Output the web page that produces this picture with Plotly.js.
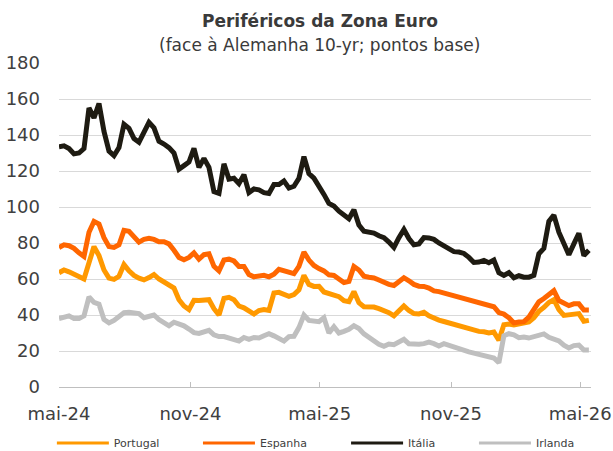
<!DOCTYPE html>
<html>
<head>
<meta charset="utf-8">
<script src="https://cdn.plot.ly/plotly-3.0.1.min.js"></script>
<style>html,body{margin:0;padding:0;background:#fff}#chart{width:613px;height:451px}</style>
</head>
<body>
<div id="chart"></div>
<script>
// Weekly observations starting 2024-05-01
const startDate = '2024-05-01';
const seriesNames = ['Portugal', 'Espanha', 'Itália', 'Irlanda'];
const tickDates = ['2024-05-01', '2024-11-01', '2025-05-01', '2025-11-01', '2026-05-01'];
const tickLabels = ['mai-24', 'nov-24', 'mai-25', 'nov-25', 'mai-26'];

const portugal = [63.5,65,64,62.5,61,60,69,78,73,65,60.5,59.8,61.5,68,64.5,62,60.5,59.5,60.8,62.5,
60,58.3,57.2,55,48.5,45,43,48.2,48,48,48.5,43.5,40,49.2,49.8,48.5,45,44,42.2,40.5,
42.5,43,42.5,52.2,52.6,51.2,50.4,51.4,54,62,57,55.9,56,52.8,51.7,51.1,50.2,47.9,47.4,53,
46.8,44.6,44.6,44.4,43.5,42.6,41.3,39.5,42.5,45,42.5,40.8,40.6,41.5,39.5,38.2,37.2,36.4,35.6,34.6,
33.7,33.5,32.8,31.9,30.9,30.7,30,30.5,26,34.6,35,34.5,35.2,35.4,36.1,38.5,42,44.2,47,48.5,
43,39.8,40.3,40.2,40.8,36.5,37];

const espanha = [77.5,79,78.5,77,74.5,72.5,86,92,90.5,83,78,77.5,79,87,86.5,83,80.5,82,82.6,82,
80.7,80.7,79.5,76,72,70.7,72,74.5,71,73.5,74,67,64.5,70.5,71,70,67,67,62.5,61.2,
61.8,62,61.2,62.6,65.4,64.5,63.2,63,67,75,70.5,67.5,65.8,64.5,62.3,62,60,58,58.7,67,
65,61.6,61,60.6,59.4,58.1,57,56.4,58.9,60.7,59,57,56,55.9,55,53.4,53,52.2,51.2,51,
50.2,49.2,48.2,47.5,46.7,45.7,44.8,44.6,41.3,40.5,38.5,35.6,36.1,36.3,38.8,43,47.3,49.2,51.3,53.5,
48,46.8,45.2,46.2,46.2,42.8,42.8];

const italia = [133.5,134,132.5,129.5,130,132.5,155,149.5,157.5,142,131,128.5,133,146,143.7,138,136,141,147,144,
136.5,135,133,130,121,123,125,132.6,122,127,122,108.5,107.5,124,115.5,116,113,118,108,110,
109.5,108,107.5,112.5,112.5,114.5,110.5,111.5,116,128,118.5,116,112,107,102,100.5,97.7,95.5,93.5,98.5,
90,86.5,86,85.5,84,83,80.5,77.5,83,87.5,82.5,79,79.5,83,82.8,82,80,78.5,76.5,75.2,
75,74.2,72,69.2,69.4,70.3,69,70.5,63.5,62,63.5,60.7,61.8,61,61,62,74,77,92,95.5,
86,80,73.5,79.5,85.4,73,76];

const irlanda = [38,39,39.5,38,38,39.5,50,47,46,37.5,35.6,37,39.5,41.3,41.5,41,40.8,38.5,39,40,
37.5,35.5,34,36,35.2,34,32.2,30.2,29.8,31,31.5,29,28,28,27.2,26.5,25.5,27.5,26.5,27.5,
27.2,28.5,29.6,28.4,27.2,25.5,28,28.2,33,40,37,36.5,36.3,38.5,30,33.5,30,30.9,32,34,
32.5,29.5,27.4,25.6,23.7,22.6,23.9,23.5,24.7,26.5,24,23.5,23.7,24.1,24.9,24.1,22.8,24.1,23.1,21.8,
20.9,20.3,19.5,18.8,18.2,17.5,16.8,16.1,13.5,28.5,29.6,29,27.4,27.8,27.2,27.8,28.8,29.5,27.6,26.6,
25.6,23.2,21.7,23,23.3,20.5,20.5];

const values = [portugal, espanha, italia, irlanda];
const colors = ['#FF9900', '#FF6600', '#1E1B12', '#BFBFBF'];

function weeklyDates(start, n) {
  const out = [];
  const d0 = new Date(start + 'T00:00:00Z');
  for (let i = 0; i < n; i++) {
    const d = new Date(d0.getTime() + i * 7 * 86400000);
    out.push(d.toISOString().slice(0, 10));
  }
  return out;
}
const dates = weeklyDates(startDate, italia.length);

const font = 'DejaVu Sans, Verdana, sans-serif';
const legendIds = ['legend', 'legend2', 'legend3', 'legend4'];
const legendX = [-0.0134, 0.2612, 0.5396, 0.78];
const symW = 52;

const traces = seriesNames.map((name, i) => ({
  type: 'scatter', mode: 'lines', name: name,
  x: dates, y: values[i],
  line: {color: colors[i], width: 5, shape: 'linear'},
  showlegend: false,
  hoverinfo: 'skip'
}));
// legend entries (thinner key lines, like the original legend)
seriesNames.forEach((name, i) => {
  traces.push({
    type: 'scatter', mode: 'lines', name: name,
    x: [null], y: [null],
    line: {color: colors[i], width: 3},
    legend: legendIds[i], showlegend: true, hoverinfo: 'skip'
  });
});

const layout = {
  width: 613, height: 451,
  margin: {l: 59, r: 22, t: 63, b: 64},
  paper_bgcolor: '#ffffff', plot_bgcolor: '#ffffff',
  font: {family: font, color: '#404040', size: 18},
  showlegend: true,
  xaxis: {
    type: 'date', range: ['2024-05-01', '2026-05-16'],
    tickvals: tickDates, ticktext: tickLabels,
    ticks: 'inside', ticklen: 5, tickcolor: '#BFBFBF', tickwidth: 1,
    showline: true, linecolor: '#BFBFBF', linewidth: 1,
    showgrid: false, zeroline: false, automargin: false,
    tickfont: {family: font, size: 18, color: '#404040'},
    ticklabelstandoff: 10
  },
  yaxis: {
    range: [0, 180], dtick: 20, tick0: 0,
    showgrid: true, gridcolor: '#D9D9D9', gridwidth: 1,
    showline: false, zeroline: false, ticks: '', automargin: false,
    tickfont: {family: font, size: 18, color: '#404040'},
    ticklabelstandoff: 18
  },
  annotations: [
    {text: '<b>Periféricos da Zona Euro</b>', xref: 'paper', yref: 'paper',
     x: 0.49, y: 1, xanchor: 'center', yanchor: 'bottom', yshift: 30, showarrow: false,
     font: {family: font, size: 17, color: '#3A3A3A'}},
    {text: '(face à Alemanha 10-yr; pontos base)', xref: 'paper', yref: 'paper',
     x: 0.49, y: 1, xanchor: 'center', yanchor: 'bottom', yshift: 6, showarrow: false,
     font: {family: font, size: 17, color: '#3A3A3A'}}
  ]
};

legendIds.forEach((id, i) => {
  layout[id] = {
    orientation: 'h', x: legendX[i], xanchor: 'left',
    yref: 'container', y: 0.018, yanchor: 'middle',
    itemwidth: symW,
    font: {family: font, size: 11, color: '#404040'},
    bgcolor: 'rgba(0,0,0,0)', borderwidth: 0
  };
});

Plotly.newPlot('chart', traces, layout, {displayModeBar: false, staticPlot: true});
</script>
</body>
</html>
